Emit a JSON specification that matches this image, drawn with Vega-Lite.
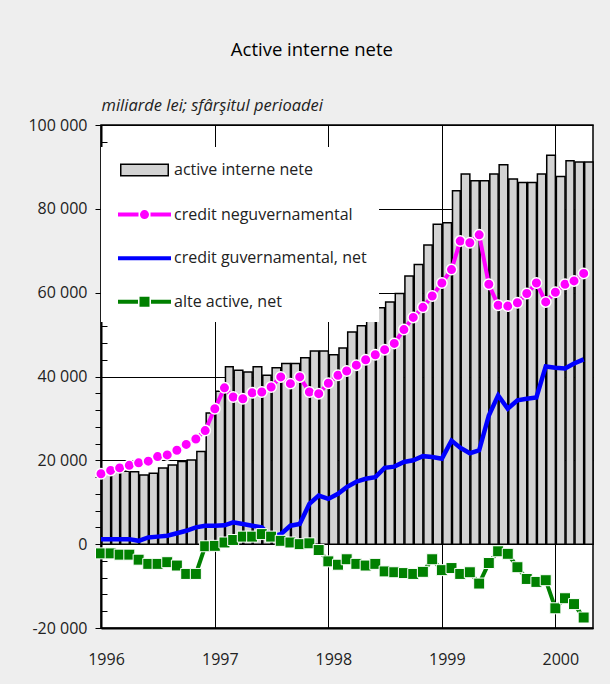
{
  "$schema": "https://vega.github.io/schema/vega-lite/v6.json",
  "width": 492,
  "height": 503,
  "autosize": {"type": "none"},
  "padding": {"left": 101, "top": 125, "right": 17, "bottom": 56},
  "background": "#eeeeee",
  "title": {"text": "Active interne nete", "font": "Open Sans", "fontSize": 18.5, "fontWeight": "normal", "color": "black", "anchor": "middle", "frame": "bounds", "offset": 38},
  "config": {
    "view": {"stroke": "black", "strokeWidth": 1.5, "fill": "white"},
    "font": "Open Sans"
  },
  "datasets": {
    "aint": [
      {"d":"1996-01-15","v":17300},{"d":"1996-02-15","v":17500},{"d":"1996-03-15","v":17400},{"d":"1996-04-15","v":17300},{"d":"1996-05-15","v":16500},{"d":"1996-06-15","v":16900},{"d":"1996-07-15","v":18200},{"d":"1996-08-15","v":18900},{"d":"1996-09-15","v":19700},{"d":"1996-10-15","v":20100},{"d":"1996-11-15","v":22100},{"d":"1996-12-15","v":31300},
      {"d":"1997-01-15","v":36500},{"d":"1997-02-15","v":42300},{"d":"1997-03-15","v":41500},{"d":"1997-04-15","v":41100},{"d":"1997-05-15","v":42300},{"d":"1997-06-15","v":40300},{"d":"1997-07-15","v":42100},{"d":"1997-08-15","v":43100},{"d":"1997-09-15","v":43100},{"d":"1997-10-15","v":44500},{"d":"1997-11-15","v":46100},{"d":"1997-12-15","v":46100},
      {"d":"1998-01-15","v":45200},{"d":"1998-02-15","v":46800},{"d":"1998-03-15","v":50600},{"d":"1998-04-15","v":52100},{"d":"1998-05-15","v":54100},{"d":"1998-06-15","v":56400},{"d":"1998-07-15","v":57800},{"d":"1998-08-15","v":59800},{"d":"1998-09-15","v":64000},{"d":"1998-10-15","v":66700},{"d":"1998-11-15","v":71400},{"d":"1998-12-15","v":76300},
      {"d":"1999-01-15","v":76700},{"d":"1999-02-15","v":84300},{"d":"1999-03-15","v":88300},{"d":"1999-04-15","v":86700},{"d":"1999-05-15","v":86700},{"d":"1999-06-15","v":88300},{"d":"1999-07-15","v":90500},{"d":"1999-08-15","v":87100},{"d":"1999-09-15","v":86300},{"d":"1999-10-15","v":86300},{"d":"1999-11-15","v":88300},{"d":"1999-12-15","v":92800},
      {"d":"2000-01-15","v":87700},{"d":"2000-02-15","v":91500},{"d":"2000-03-15","v":91200},{"d":"2000-04-15","v":91200}
    ],
    "cneg": [
      {"d":"1996-01-15","v":16800},{"d":"1996-02-15","v":17600},{"d":"1996-03-15","v":18200},{"d":"1996-04-15","v":18800},{"d":"1996-05-15","v":19400},{"d":"1996-06-15","v":19800},{"d":"1996-07-15","v":20900},{"d":"1996-08-15","v":21300},{"d":"1996-09-15","v":22400},{"d":"1996-10-15","v":23800},{"d":"1996-11-15","v":25100},{"d":"1996-12-15","v":27100},
      {"d":"1997-01-15","v":32300},{"d":"1997-02-15","v":37300},{"d":"1997-03-15","v":35100},{"d":"1997-04-15","v":34700},{"d":"1997-05-15","v":36100},{"d":"1997-06-15","v":36300},{"d":"1997-07-15","v":37500},{"d":"1997-08-15","v":39900},{"d":"1997-09-15","v":38300},{"d":"1997-10-15","v":39900},{"d":"1997-11-15","v":36300},{"d":"1997-12-15","v":35900},
      {"d":"1998-01-15","v":38400},{"d":"1998-02-15","v":40300},{"d":"1998-03-15","v":41300},{"d":"1998-04-15","v":42700},{"d":"1998-05-15","v":44000},{"d":"1998-06-15","v":45200},{"d":"1998-07-15","v":46400},{"d":"1998-08-15","v":47900},{"d":"1998-09-15","v":51200},{"d":"1998-10-15","v":54100},{"d":"1998-11-15","v":56500},{"d":"1998-12-15","v":59200},
      {"d":"1999-01-15","v":62300},{"d":"1999-02-15","v":65500},{"d":"1999-03-15","v":72300},{"d":"1999-04-15","v":71900},{"d":"1999-05-15","v":73800},{"d":"1999-06-15","v":62000},{"d":"1999-07-15","v":57000},{"d":"1999-08-15","v":56800},{"d":"1999-09-15","v":57600},{"d":"1999-10-15","v":59800},{"d":"1999-11-15","v":62300},{"d":"1999-12-15","v":57800},
      {"d":"2000-01-15","v":60100},{"d":"2000-02-15","v":62000},{"d":"2000-03-15","v":62800},{"d":"2000-04-15","v":64600}
    ],
    "cgov": [
      {"d":"1996-01-15","v":1200},{"d":"1996-02-15","v":1200},{"d":"1996-03-15","v":1200},{"d":"1996-04-15","v":1200},{"d":"1996-05-15","v":800},{"d":"1996-06-15","v":1600},{"d":"1996-07-15","v":1800},{"d":"1996-08-15","v":2000},{"d":"1996-09-15","v":2600},{"d":"1996-10-15","v":3200},{"d":"1996-11-15","v":4000},{"d":"1996-12-15","v":4400},
      {"d":"1997-01-15","v":4400},{"d":"1997-02-15","v":4500},{"d":"1997-03-15","v":5200},{"d":"1997-04-15","v":4800},{"d":"1997-05-15","v":4400},{"d":"1997-06-15","v":4000},{"d":"1997-07-15","v":1800},{"d":"1997-08-15","v":2400},{"d":"1997-09-15","v":4400},{"d":"1997-10-15","v":4800},{"d":"1997-11-15","v":9600},{"d":"1997-12-15","v":11600},
      {"d":"1998-01-15","v":10800},{"d":"1998-02-15","v":12000},{"d":"1998-03-15","v":13600},{"d":"1998-04-15","v":14900},{"d":"1998-05-15","v":15600},{"d":"1998-06-15","v":16000},{"d":"1998-07-15","v":18200},{"d":"1998-08-15","v":18500},{"d":"1998-09-15","v":19600},{"d":"1998-10-15","v":20000},{"d":"1998-11-15","v":21000},{"d":"1998-12-15","v":20800},
      {"d":"1999-01-15","v":20400},{"d":"1999-02-15","v":24700},{"d":"1999-03-15","v":23000},{"d":"1999-04-15","v":21700},{"d":"1999-05-15","v":22400},{"d":"1999-06-15","v":30700},{"d":"1999-07-15","v":35500},{"d":"1999-08-15","v":32300},{"d":"1999-09-15","v":34300},{"d":"1999-10-15","v":34700},{"d":"1999-11-15","v":35000},{"d":"1999-12-15","v":42400},
      {"d":"2000-01-15","v":42100},{"d":"2000-02-15","v":41900},{"d":"2000-03-15","v":43100},{"d":"2000-04-15","v":44100}
    ],
    "alte": [
      {"d":"1996-01-15","v":-2200},{"d":"1996-02-15","v":-2200},{"d":"1996-03-15","v":-2500},{"d":"1996-04-15","v":-2500},{"d":"1996-05-15","v":-3700},{"d":"1996-06-15","v":-4700},{"d":"1996-07-15","v":-4700},{"d":"1996-08-15","v":-4300},{"d":"1996-09-15","v":-5100},{"d":"1996-10-15","v":-7100},{"d":"1996-11-15","v":-7100},{"d":"1996-12-15","v":-500},
      {"d":"1997-01-15","v":-400},{"d":"1997-02-15","v":400},{"d":"1997-03-15","v":1000},{"d":"1997-04-15","v":1800},{"d":"1997-05-15","v":1800},{"d":"1997-06-15","v":2400},{"d":"1997-07-15","v":1800},{"d":"1997-08-15","v":800},{"d":"1997-09-15","v":400},{"d":"1997-10-15","v":0},{"d":"1997-11-15","v":200},{"d":"1997-12-15","v":-1400},
      {"d":"1998-01-15","v":-4100},{"d":"1998-02-15","v":-4900},{"d":"1998-03-15","v":-3600},{"d":"1998-04-15","v":-4700},{"d":"1998-05-15","v":-5100},{"d":"1998-06-15","v":-4700},{"d":"1998-07-15","v":-6500},{"d":"1998-08-15","v":-6700},{"d":"1998-09-15","v":-6900},{"d":"1998-10-15","v":-7100},{"d":"1998-11-15","v":-6600},{"d":"1998-12-15","v":-3600},
      {"d":"1999-01-15","v":-6200},{"d":"1999-02-15","v":-5700},{"d":"1999-03-15","v":-7100},{"d":"1999-04-15","v":-6700},{"d":"1999-05-15","v":-9400},{"d":"1999-06-15","v":-4500},{"d":"1999-07-15","v":-1700},{"d":"1999-08-15","v":-2300},{"d":"1999-09-15","v":-5500},{"d":"1999-10-15","v":-8300},{"d":"1999-11-15","v":-9000},{"d":"1999-12-15","v":-8600},
      {"d":"2000-01-15","v":-15300},{"d":"2000-02-15","v":-12900},{"d":"2000-03-15","v":-14300},{"d":"2000-04-15","v":-17500}
    ]
  },
  "encoding": {
    "x": {
      "field": "d", "timeUnit": "yearmonth", "type": "temporal",
      "scale": {"domain": [{"year": 1996, "month": 1, "date": 1}, {"year": 2000, "month": 5, "date": 1}], "nice": false},
      "axis": {
        "title": null,
        "values": [{"year": 1996, "month": 1, "date": 1}, {"year": 1997, "month": 1, "date": 1}, {"year": 1998, "month": 1, "date": 1}, {"year": 1999, "month": 1, "date": 1}, {"year": 2000, "month": 1, "date": 1}],
        "format": "%Y",
        "ticks": false, "tickSize": 0,
        "grid": true, "gridColor": "black", "gridWidth": 1, "gridOpacity": 1,
        "domain": true, "domainColor": "black", "domainWidth": 2,
        "labelFont": "Open Sans", "labelFontSize": 16, "labelColor": "#222",
        "labelPadding": 23, "labelOffset": 5, "labelFlush": false, "labelOverlap": false
      }
    },
    "y": {
      "field": "v", "type": "quantitative",
      "scale": {"domain": [-20000, 100000], "nice": false, "zero": false},
      "axis": {
        "title": "miliarde lei; sfârşitul perioadei",
        "titleAngle": 0, "titleAlign": "left", "titleBaseline": "alphabetic",
        "titleX": 0, "titleY": -15,
        "titleFont": "Open Sans", "titleFontStyle": "italic", "titleFontWeight": "normal", "titleFontSize": 16.5, "titleColor": "#222",
        "values": [-20000, -16000, -12000, -8000, -4000, 0, 4000, 8000, 12000, 16000, 20000, 24000, 28000, 32000, 36000, 40000, 44000, 48000, 52000, 56000, 60000, 64000, 68000, 72000, 76000, 80000, 84000, 88000, 92000, 96000, 100000],
        "labelExpr": "datum.value % 20000 === 0 ? (datum.value < 0 ? '-' : '') + replace(format(abs(datum.value), ','), ',', ' ') : ''",
        "tickColor": "black", "tickWidth": 1,
        "tickSize": {"condition": {"test": "datum.value % 20000 === 0 || (datum.value > 0 && datum.value < 40000)", "value": 6}, "value": -6},
        "grid": true, "gridColor": "black", "gridWidth": 1,
        "gridOpacity": {"condition": {"test": "datum.value % 20000 === 0", "value": 1}, "value": 0},
        "domain": true, "domainColor": "black", "domainWidth": 2,
        "labelFont": "Open Sans", "labelFontSize": 16, "labelColor": "#222",
        "labelPadding": 8, "labelOverlap": false, "labelFlush": false
      }
    }
  },
  "layer": [
    {
      "data": {"name": "aint"},
      "mark": {"type": "bar", "stroke": "black", "strokeWidth": 1.5, "opacity": 1},
      "encoding": {
        "fill": {
          "datum": "active interne nete", "type": "nominal",
          "scale": {"domain": ["active interne nete", "credit neguvernamental", "credit guvernamental, net", "alte active, net"], "range": ["#d3d3d3", "#ff00ff", "#0000ff", "#008000"]},
          "legend": {
            "title": null, "orient": "none", "legendX": 0, "legendY": 22,
            "padding": 12, "fillColor": "white", "strokeColor": null,
            "symbolSize": 400, "symbolStrokeWidth": 1.5, "symbolOpacity": 1, "rowPadding": 24.6, "labelOffset": 39, "labelLimit": 400,
            "labelFont": "Open Sans", "labelFontSize": 16, "labelColor": "#222"
          }
        }
      }
    },
    {
      "data": {"name": "cneg"},
      "mark": {"type": "line", "strokeWidth": 4, "timeUnitBandPosition": 0.5},
      "encoding": {
        "stroke": {
          "datum": "credit neguvernamental", "type": "nominal",
          "scale": {"domain": ["active interne nete", "credit neguvernamental", "credit guvernamental, net", "alte active, net"], "range": ["black", "#ff00ff", "#0000ff", "#008000"]},
          "legend": {
            "title": null, "orient": "none", "legendX": 0, "legendY": 22,
            "padding": 12, "fillColor": "white", "strokeColor": null,
            "symbolSize": 400, "symbolStrokeWidth": 1.5, "symbolOpacity": 1, "rowPadding": 24.6, "labelOffset": 39, "labelLimit": 400,
            "labelFont": "Open Sans", "labelFontSize": 16, "labelColor": "#222"
          }
        }
      }
    },
    {
      "data": {"name": "cneg"},
      "mark": {"type": "point", "shape": "circle", "filled": true, "size": 110, "stroke": "white", "strokeWidth": 1.5, "opacity": 1, "timeUnitBandPosition": 0.5},
      "encoding": {
        "fill": {"datum": "credit neguvernamental", "type": "nominal", "scale": {"domain": ["active interne nete", "credit neguvernamental", "credit guvernamental, net", "alte active, net"], "range": ["#d3d3d3", "#ff00ff", "#0000ff", "#008000"]}}
      }
    },
    {
      "data": {"name": "cgov"},
      "mark": {"type": "line", "strokeWidth": 4.5, "timeUnitBandPosition": 0.5},
      "encoding": {
        "stroke": {"datum": "credit guvernamental, net", "type": "nominal", "scale": {"domain": ["active interne nete", "credit neguvernamental", "credit guvernamental, net", "alte active, net"], "range": ["black", "#ff00ff", "#0000ff", "#008000"]}}
      }
    },
    {
      "data": {"name": "alte"},
      "mark": {"type": "line", "strokeWidth": 4, "timeUnitBandPosition": 0.5},
      "encoding": {
        "stroke": {"datum": "alte active, net", "type": "nominal", "scale": {"domain": ["active interne nete", "credit neguvernamental", "credit guvernamental, net", "alte active, net"], "range": ["black", "#ff00ff", "#0000ff", "#008000"]}}
      }
    },
    {
      "data": {"name": "alte"},
      "mark": {"type": "point", "shape": "square", "filled": true, "size": 121, "stroke": "white", "strokeWidth": 1, "opacity": 1, "timeUnitBandPosition": 0.5},
      "encoding": {
        "fill": {"datum": "alte active, net", "type": "nominal", "scale": {"domain": ["active interne nete", "credit neguvernamental", "credit guvernamental, net", "alte active, net"], "range": ["#d3d3d3", "#ff00ff", "#0000ff", "#008000"]}}
      }
    },
    {
      "data": {"name": "aint"},
      "mark": {"type": "point", "filled": true, "opacity": 0, "timeUnitBandPosition": 0.5},
      "encoding": {
        "shape": {
          "datum": "active interne nete", "type": "nominal",
          "scale": {"domain": ["active interne nete", "credit neguvernamental", "credit guvernamental, net", "alte active, net"], "range": [
            "M-0.325,-0.575H4.425V0.575H-0.325Z",
            "M-0.525,-0.125H1.375V0.125H-0.525Z M2.725,-0.125H4.625V0.125H2.725Z M1.675,0A0.375,0.375 0 1,0 2.425,0A0.375,0.375 0 1,0 1.675,0Z",
            "M-0.525,-0.125H4.625V0.125H-0.525Z",
            "M-0.525,-0.125H1.325V0.125H-0.525Z M2.775,-0.125H4.625V0.125H2.775Z M1.625,-0.425H2.475V0.425H1.625Z"
          ]},
          "legend": {
            "title": null, "orient": "none", "legendX": 0, "legendY": 22,
            "padding": 12, "fillColor": "white", "strokeColor": null,
            "symbolSize": 400, "symbolStrokeWidth": 1.5, "symbolOpacity": 1, "rowPadding": 24.6, "labelOffset": 39, "labelLimit": 400,
            "labelFont": "Open Sans", "labelFontSize": 16, "labelColor": "#222"
          }
        }
      }
    }
  ]
}
